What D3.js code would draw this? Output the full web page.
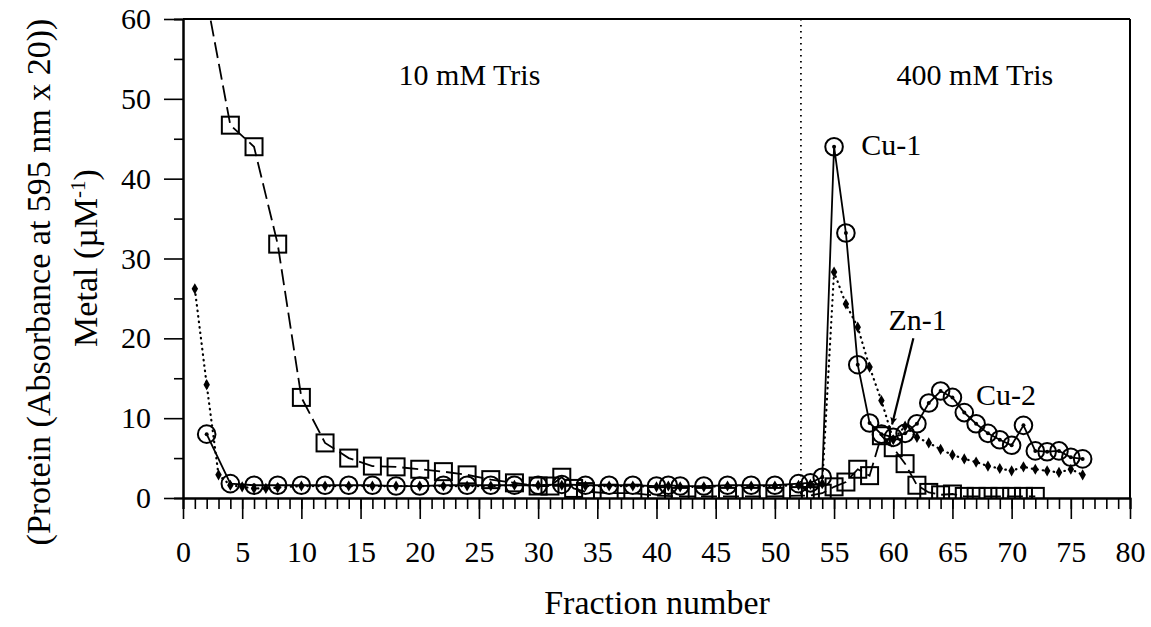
<!DOCTYPE html>
<html>
<head>
<meta charset="utf-8">
<script src="https://cdn.jsdelivr.net/npm/d3@7/dist/d3.min.js"></script>
<style>
  body { margin: 0; background: #fff; }
  text { font-family: "Liberation Serif", "Times New Roman", serif; fill: #000; }
</style>
</head>
<body>
<svg id="chart"></svg>
<script>
// Cu (circles, solid line)
var cuFractions = [2, 4, 6, 8, 10, 12, 14, 16, 18, 20, 22, 24, 26, 28, 30, 32, 34, 36, 38, 40, 41, 42, 44, 46, 48, 50, 52, 53, 54,
  55, 56, 57, 58, 59, 60, 61, 62, 63, 64, 65, 66, 67, 68, 69, 70, 71, 72, 73, 74, 75, 76];
var cuValues = [8.0, 1.8, 1.6, 1.6, 1.6, 1.6, 1.6, 1.6, 1.5, 1.5, 1.6, 1.6, 1.6, 1.6, 1.6, 1.7, 1.6, 1.6, 1.6, 1.5, 1.6, 1.5, 1.5, 1.6, 1.6, 1.6, 1.8, 1.9, 2.6,
  44.0, 33.2, 16.7, 9.4, 8.0, 7.6, 8.1, 9.3, 11.9, 13.4, 12.6, 10.7, 9.3, 8.1, 7.3, 6.6, 9.1, 5.9, 5.8, 5.9, 5.1, 4.9];

// Zn (small diamonds, dotted line)
var znFractions = [1, 2, 3, 4, 5, 6, 7, 8, 10, 12, 14, 16, 18, 20, 22, 24, 26, 28, 30, 32, 34, 36, 38, 40, 41, 42, 44, 46, 48, 50, 52, 53, 54,
  55, 56, 57, 58, 59, 60, 61, 62, 63, 64, 65, 66, 67, 68, 69, 70, 71, 72, 73, 74, 75, 76];
var znValues = [26.2, 14.2, 2.9, 1.6, 1.4, 1.2, 1.2, 1.3, 1.5, 1.5, 1.5, 1.5, 1.5, 1.5, 1.5, 1.5, 1.5, 1.6, 1.6, 1.6, 1.5, 1.5, 1.5, 1.4, 1.5, 1.4, 1.4, 1.5, 1.5, 1.5, 1.6, 1.7, 1.8,
  28.3, 24.3, 21.4, 16.4, 12.2, 7.3, 9.0, 7.6, 6.9, 6.1, 5.4, 4.9, 4.5, 4.0, 3.7, 3.4, 3.9, 3.6, 3.4, 3.2, 3.6, 2.9];

// Protein (squares, dashed line)
var proteinFractions = [2, 4, 6, 8, 10, 12, 14, 16, 18, 20, 22, 24, 26, 28, 30, 31, 32, 33, 34, 36, 38, 40, 42, 44, 46, 48, 50, 52, 53, 54,
  55, 56, 57, 58, 59, 60, 61, 62, 63, 64, 65, 66, 67, 68, 69, 70, 71, 72];
var proteinValues = [62.5, 46.7, 44.0, 31.8, 12.6, 6.9, 5.0, 4.0, 3.9, 3.6, 3.3, 2.9, 2.3, 1.9, 1.5, 1.5, 2.6, 1.2, 0.8, 0.6, 0.6, 0.3, 0.2, 0.2, 0.2, 0.2, 0.2, 0.3, 0.3, 0.6,
  1.4, 2.0, 3.6, 2.8, 7.8, 6.3, 4.3, 1.6, 0.7, 0.4, 0.5, 0.2, 0.2, 0.2, 0.2, 0.2, 0.2, 0.2];

var xTicks = [0, 5, 10, 15, 20, 25, 30, 35, 40, 45, 50, 55, 60, 65, 70, 75, 80];
var yTicks = [0, 10, 20, 30, 40, 50, 60];
var bufferSwitch = 52.2;

var svgWidth = 1151, svgHeight = 627;
var margin = { top: 19, right: 21, bottom: 129, left: 183 };
var width = svgWidth - margin.left - margin.right;
var height = svgHeight - margin.top - margin.bottom;
var fontSize = 30;
var titleSize = 34;

var svg = d3.select("#chart")
  .attr("width", svgWidth)
  .attr("height", svgHeight);

var x = d3.scaleLinear().domain([0, 80]).range([0, width]);
var y = d3.scaleLinear().domain([0, 60]).range([height, 0]);

var g = svg.append("g").attr("transform", `translate(${margin.left},${margin.top})`);

var defs = svg.append("defs");
defs.append("clipPath").attr("id", "plotclip")
  .append("rect").attr("x", 0).attr("y", 0).attr("width", width).attr("height", height);

//frame (top and right)
g.append("line").attr("x1", 0).attr("x2", width).attr("y1", 0).attr("y2", 0)
  .attr("stroke", "#000").attr("stroke-width", 2);
g.append("line").attr("x1", width).attr("x2", width).attr("y1", 0).attr("y2", height)
  .attr("stroke", "#000").attr("stroke-width", 2);

//minor ticks
g.append("g").attr("transform", `translate(0,${height})`)
  .call(d3.axisBottom(x).tickValues(d3.range(0, 81, 1)).tickSize(11).tickFormat(""));
g.append("g")
  .call(d3.axisLeft(y).tickValues(d3.range(5, 60, 10)).tickSize(9).tickFormat(""));

//major ticks + labels
g.append("g").attr("transform", `translate(0,${height})`)
  .call(d3.axisBottom(x).tickValues(xTicks).tickSize(21).tickPadding(22).tickSizeOuter(0));
g.append("g")
  .call(d3.axisLeft(y).tickValues(yTicks).tickSize(19).tickPadding(13).tickSizeOuter(0));

g.selectAll(".domain").attr("stroke-width", 2);
g.selectAll(".tick line").attr("stroke-width", 1.6);
g.selectAll(".tick text")
  .style("font-family", "'Liberation Serif', serif")
  .style("font-size", fontSize + "px")
  .attr("fill", "#000");

//buffer change
g.append("line")
  .attr("x1", x(bufferSwitch)).attr("x2", x(bufferSwitch))
  .attr("y1", 0).attr("y2", height)
  .attr("stroke", "#000").attr("stroke-width", 1.8)
  .attr("stroke-dasharray", "1.5,4.5");

var plot = g.append("g").attr("clip-path", "url(#plotclip)");

function pts(fr, vals) {
  return fr.map(function (f, i) { return [f, vals[i]]; });
}
var line = d3.line().x(d => x(d[0])).y(d => y(d[1]));

var protein = pts(proteinFractions, proteinValues);
var cu = pts(cuFractions, cuValues);
var zn = pts(znFractions, znValues);

plot.append("path").datum(protein)
  .attr("d", line).attr("fill", "none").attr("stroke", "#000")
  .attr("stroke-width", 1.8).attr("stroke-dasharray", "16,6");

plot.append("path").datum(zn)
  .attr("d", line).attr("fill", "none").attr("stroke", "#000")
  .attr("stroke-width", 2.2).attr("stroke-linecap", "round")
  .attr("stroke-dasharray", "0.5,5");

plot.append("path").datum(cu)
  .attr("d", line).attr("fill", "none").attr("stroke", "#000")
  .attr("stroke-width", 1.8);

//markers
plot.selectAll(".sq").data(protein.filter(d => d[1] <= 60)).join("rect")
  .attr("class", "sq")
  .attr("x", d => x(d[0]) - 8.5).attr("y", d => y(d[1]) - 8.5)
  .attr("width", 17).attr("height", 17)
  .attr("fill", "none").attr("stroke", "#000").attr("stroke-width", 2);

plot.selectAll(".ci").data(cu).join("circle")
  .attr("class", "ci")
  .attr("cx", d => x(d[0])).attr("cy", d => y(d[1])).attr("r", 8.8)
  .attr("fill", "none").attr("stroke", "#000").attr("stroke-width", 2);

plot.selectAll(".cd").data(cu).join("circle")
  .attr("class", "cd")
  .attr("cx", d => x(d[0])).attr("cy", d => y(d[1])).attr("r", 2)
  .attr("fill", "#000");

plot.selectAll(".zn").data(zn).join("path")
  .attr("class", "zn")
  .attr("transform", d => `translate(${x(d[0])},${y(d[1])})`)
  .attr("d", d3.symbol(d3.symbolDiamond, 36))
  .attr("fill", "#000");

//annotations
var notes = [
  { t: "10 mM Tris", x: 24.2, y: 51.7, anchor: "middle" },
  { t: "400 mM Tris", x: 66.9, y: 51.7, anchor: "middle" },
  { t: "Cu-1", x: 57.3, y: 43.0, anchor: "start" },
  { t: "Zn-1", x: 59.6, y: 21.0, anchor: "start" },
  { t: "Cu-2", x: 67.0, y: 11.6, anchor: "start" }
];
g.selectAll(".note").data(notes).join("text")
  .attr("class", "note")
  .attr("x", d => x(d.x)).attr("y", d => y(d.y))
  .attr("text-anchor", d => d.anchor)
  .style("font-size", fontSize + "px")
  .text(d => d.t);

//arrow to Zn-1
defs.append("marker")
  .attr("id", "arrow").attr("viewBox", "0 0 10 10")
  .attr("refX", 10).attr("refY", 5)
  .attr("markerWidth", 7).attr("markerHeight", 3.2)
  .attr("markerUnits", "strokeWidth")
  .attr("orient", "auto")
  .append("path").attr("d", "M0,0 L10,5 L0,10 L2,5 Z").attr("fill", "#000");

g.append("line")
  .attr("x1", x(61.7)).attr("y1", y(20.0))
  .attr("x2", x(59.9)).attr("y2", y(9.2))
  .attr("stroke", "#000").attr("stroke-width", 2.2)
  .attr("marker-end", "url(#arrow)");

//axis titles
svg.append("text")
  .attr("x", 657).attr("y", 614)
  .attr("text-anchor", "middle")
  .style("font-size", titleSize + "px")
  .text("Fraction number");

svg.append("text")
  .attr("transform", "translate(50,282) rotate(-90)")
  .attr("text-anchor", "middle")
  .style("font-size", titleSize + "px")
  .text("(Protein (Absorbance at 595 nm x 20))");

var metal = svg.append("text")
  .attr("transform", "translate(97,258) rotate(-90)")
  .attr("text-anchor", "middle")
  .style("font-size", titleSize + "px");
metal.append("tspan").text("Metal (\u00b5M");
metal.append("tspan").attr("dy", -12).style("font-size", "21px").text("-1");
metal.append("tspan").attr("dy", 12).text(")");
</script>
</body>
</html>
